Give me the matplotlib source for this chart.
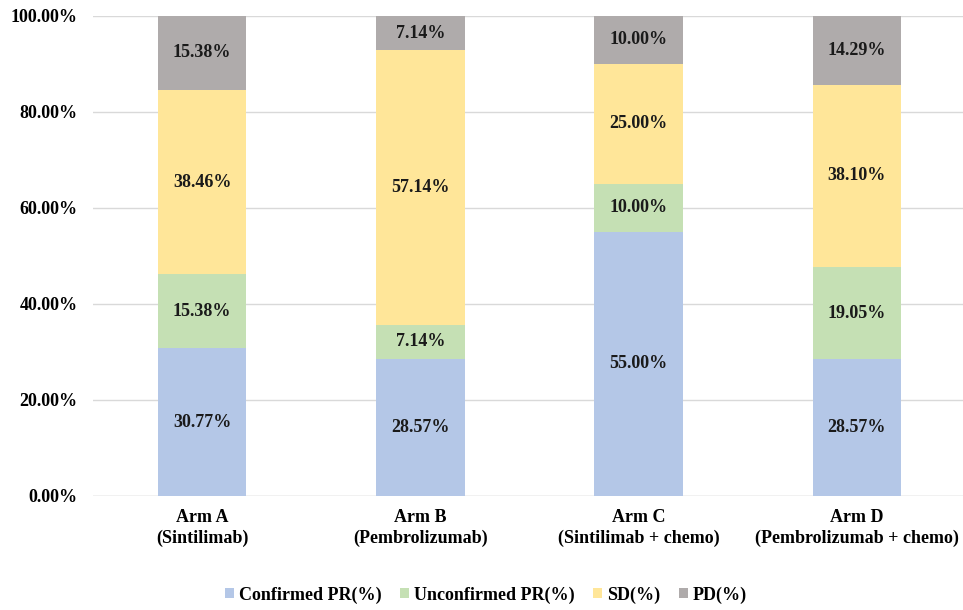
import numpy as np
import matplotlib.pyplot as plt

plt.rcParams['font.family'] = ['Liberation Serif', 'DejaVu Serif']
plt.rcParams['font.weight'] = 'bold'

arms = ['Arm A\n(Sintilimab)', 'Arm B\n(Pembrolizumab)',
        'Arm C\n(Sintilimab + chemo)', 'Arm D\n(Pembrolizumab + chemo)']
confirmed_pr = [30.77, 28.57, 55.00, 28.57]
unconfirmed_pr = [15.38, 7.14, 10.00, 19.05]
sd = [38.46, 57.14, 25.00, 38.10]
pd_ = [15.38, 7.14, 10.00, 14.29]

series = [('Confirmed PR(%)', confirmed_pr, '#B4C7E7'),
          ('Unconfirmed PR(%)', unconfirmed_pr, '#C5E0B4'),
          ('SD(%)', sd, '#FFE699'),
          ('PD(%)', pd_, '#AFABAB')]

fs = 13

fig = plt.figure(figsize=(9.63, 6.10), dpi=100)
ax = fig.add_axes([93 / 963, 1 - 496 / 610, 870 / 963, 480 / 610])

x = np.arange(len(arms))
bottom = np.zeros(len(arms))
for name, vals, color in series:
    vals = np.array(vals)
    ax.bar(x, vals, 0.405, bottom=bottom, color=color, label=name, zorder=2)
    for xi, b, v in zip(x, bottom, vals):
        ax.text(xi, b + v / 2, '%.2f%%' % v, ha='center', va='center',
                fontsize=fs, fontweight='bold', color='#1a1a1a', zorder=3)
    bottom += vals

ax.set_xlim(-0.5, 3 + 106 / 218)
ax.set_ylim(0, 100)
ax.set_yticks(np.arange(0, 101, 20))
ax.set_yticklabels(['%.2f%%' % t for t in np.arange(0, 101, 20)], fontsize=fs)
ax.set_xticks(x)
ax.set_xticklabels(arms, fontsize=fs, linespacing=1.3)
ax.yaxis.grid(True, color='#D9D9D9', linewidth=1, zorder=0)
ax.tick_params(length=0)
ax.tick_params(axis='y', pad=11)
ax.tick_params(axis='x', pad=9)
for s in ax.spines.values():
    s.set_visible(False)
ax.axhline(0, color='#D9D9D9', linewidth=1, zorder=1)

fig.legend(loc='center', bbox_to_anchor=(486 / 963, 1 - 595 / 610), ncol=4,
           frameon=False, fontsize=fs, handlelength=0.5, handleheight=0.5,
           handletextpad=0.3, columnspacing=1.0)

fig.savefig('out.png', dpi=100)
